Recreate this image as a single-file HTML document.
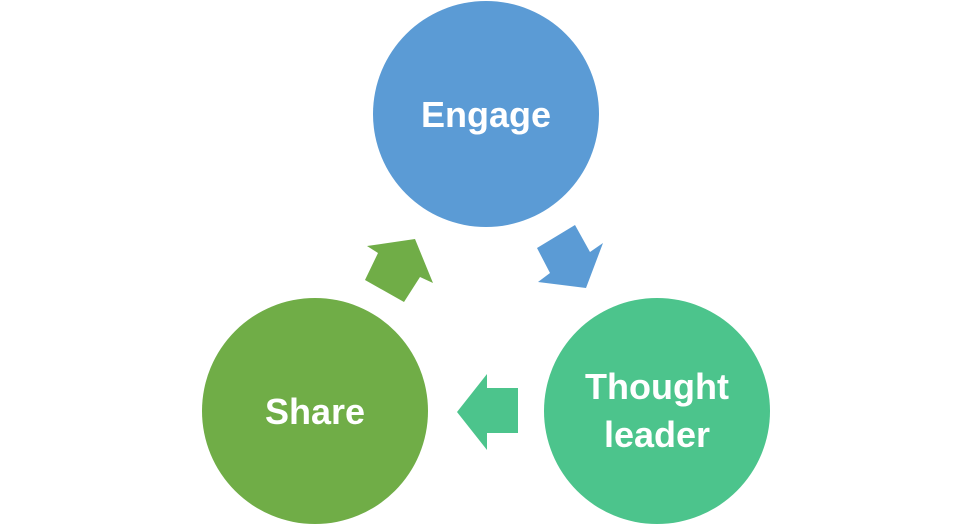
<!DOCTYPE html>
<html><head><style>body{margin:0;background:#fff}</style></head><body>
<svg width="972" height="527" viewBox="0 0 972 527" xmlns="http://www.w3.org/2000/svg" font-family="Liberation Sans, sans-serif" font-weight="bold" fill="#fff">
<circle cx="486" cy="114" r="113" fill="#5B9BD5"/>
<circle cx="657" cy="411" r="113" fill="#4CC48C"/>
<circle cx="315" cy="411" r="113" fill="#70AD47"/>
<polygon points="415,239 433,283 420,277 404,302 365,280 378,253 367,246" fill="#70AD47"/>
<polygon points="575,225 590,252 603,243 586,288 538,282 550,273 537,248" fill="#5B9BD5"/>
<polygon points="457,412 487,374 487,388 518,388 518,433 487,433 487,450" fill="#4CC48C"/>
<text x="486" y="127" font-size="36" text-anchor="middle">Engage</text>
<text x="657" y="399" font-size="36" text-anchor="middle">Thought</text>
<text x="657" y="447" font-size="36" text-anchor="middle">leader</text>
<text x="315" y="424" font-size="36" text-anchor="middle">Share</text>
</svg>
</body></html>
